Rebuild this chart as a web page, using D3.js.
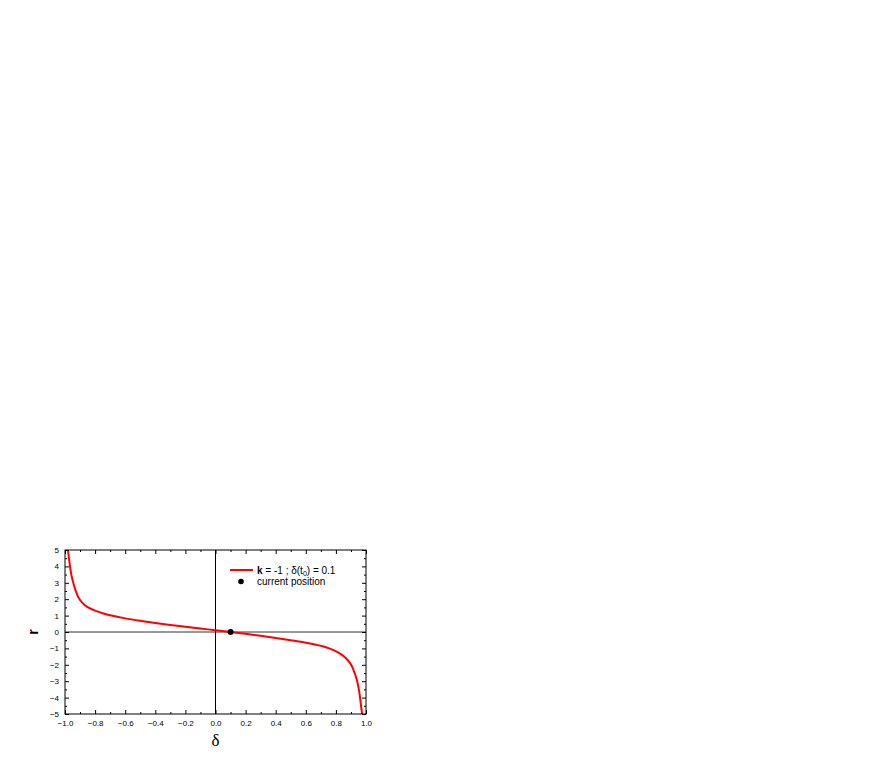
<!DOCTYPE html>
<html><head><meta charset="utf-8">
<script src="https://cdn.jsdelivr.net/npm/d3@7"></script>
<style>body{margin:0;background:#fff}svg{display:block}</style>
</head><body>
<script>
const deltaVals = [-0.980,-0.971,-0.958,-0.942,-0.920,-0.90,-0.870,-0.843,-0.80,-0.75,-0.70,-0.60,-0.50,-0.40,-0.30,-0.20,-0.10,0.00,0.10,0.20,0.30,0.40,0.50,0.60,0.66,0.712,0.76,0.801,0.835,0.867,0.892,0.912,0.938,0.956,0.967,0.974];
const rVals = [5.0,4.3,3.5,2.9,2.3,1.95,1.65,1.48,1.3,1.14,1.02,0.83,0.68,0.55,0.43,0.32,0.21,0.11,0.00,-0.11,-0.23,-0.36,-0.50,-0.65,-0.76,-0.87,-1.01,-1.18,-1.36,-1.60,-1.87,-2.2,-2.88,-3.7,-4.5,-5.0];
const currentPos = [0.1, 0.0];
const xTicks = [-1.0,-0.8,-0.6,-0.4,-0.2,0.0,0.2,0.4,0.6,0.8,1.0];
const yTicks = [-5,-4,-3,-2,-1,0,1,2,3,4,5];
const legendLabels = ["k = -1 ; δ(t0) = 0.1", "current position"];

const W = 872, H = 764;
const m = {left:65, right:366, top:550, bottom:714};
const svg = d3.select("body").append("svg").attr("width",W).attr("height",H);
const x = d3.scaleLinear().domain([-1,1]).range([m.left,m.right]);
const y = d3.scaleLinear().domain([-5,5]).range([m.bottom,m.top]);
const font = "Liberation Sans, Arial, sans-serif";

svg.append("line").attr("x1",x(-1)).attr("x2",x(1)).attr("y1",y(0)).attr("y2",y(0)).attr("stroke","#333").attr("stroke-width",1);
svg.append("line").attr("x1",x(0)).attr("x2",x(0)).attr("y1",y(-5)).attr("y2",y(5)).attr("stroke","#000").attr("stroke-width",1);

svg.append("clipPath").attr("id","c").append("rect").attr("x",m.left).attr("y",m.top).attr("width",m.right-m.left).attr("height",m.bottom-m.top);

const pts = deltaVals.map((d,i)=>[d,rVals[i]]);
const line = d3.line().x(d=>x(d[0])).y(d=>y(d[1])).curve(d3.curveCatmullRom.alpha(0.5));
svg.append("path").datum(pts).attr("d",line).attr("fill","none").attr("stroke","#ff0000").attr("stroke-width",2).attr("clip-path","url(#c)");

svg.append("circle").attr("cx",x(currentPos[0])).attr("cy",y(currentPos[1])).attr("r",3).attr("fill","#000");

const minorX = d3.range(-0.9,1.0,0.2).map(v=>+v.toFixed(1));
const minorY = d3.range(-4.5,5,1);
function axisG(axis, tr){ const g=svg.append("g").attr("transform",tr).call(axis); g.select(".domain").remove(); g.selectAll("line").attr("stroke","#000"); g.selectAll("text").attr("font-family",font).attr("font-size","8px").attr("fill","#000"); return g;}
axisG(d3.axisBottom(x).tickValues(xTicks).tickSize(-4).tickPadding(6).tickFormat(d3.format(".1f")), `translate(0,${m.bottom})`);
axisG(d3.axisBottom(x).tickValues(minorX).tickSize(-2).tickFormat(""), `translate(0,${m.bottom})`);
axisG(d3.axisTop(x).tickValues(xTicks).tickSize(-4).tickFormat(""), `translate(0,${m.top})`);
axisG(d3.axisTop(x).tickValues(minorX).tickSize(-2).tickFormat(""), `translate(0,${m.top})`);
axisG(d3.axisLeft(y).tickValues(yTicks).tickSize(-4).tickPadding(6).tickFormat(d3.format("d")), `translate(${m.left},0)`);
axisG(d3.axisLeft(y).tickValues(minorY).tickSize(-2).tickFormat(""), `translate(${m.left},0)`);
axisG(d3.axisRight(y).tickValues(yTicks).tickSize(-4).tickFormat(""), `translate(${m.right},0)`);
axisG(d3.axisRight(y).tickValues(minorY).tickSize(-2).tickFormat(""), `translate(${m.right},0)`);

svg.append("rect").attr("x",m.left).attr("y",m.top).attr("width",m.right-m.left).attr("height",m.bottom-m.top).attr("fill","none").attr("stroke","#000").attr("stroke-width",1);

svg.append("text").attr("x",x(0)).attr("y",746).attr("text-anchor","middle").attr("font-family","Liberation Serif, Times New Roman, serif").attr("font-size","17px").text("δ");
svg.append("text").attr("transform",`translate(38,${y(0)}) rotate(-90)`).attr("text-anchor","middle").attr("font-family",font).attr("font-weight","bold").attr("font-size","14px").text("r");

const lg = svg.append("g");
lg.append("line").attr("x1",230).attr("x2",253).attr("y1",570).attr("y2",570).attr("stroke","#ff0000").attr("stroke-width",2);
const t1 = lg.append("text").attr("x",257).attr("y",573.5).attr("font-family",font).attr("font-size","10px");
t1.append("tspan").attr("font-weight","bold").text("k");
t1.append("tspan").text(" = -1 ; δ(t");
t1.append("tspan").attr("font-size","7px").attr("dy",2).text("0");
t1.append("tspan").attr("dy",-2).text(") = 0.1");
lg.append("circle").attr("cx",241).attr("cy",581.5).attr("r",2.8).attr("fill","#000");
lg.append("text").attr("x",257).attr("y",585).attr("font-family",font).attr("font-size","10px").text(legendLabels[1]);
</script>
</body></html>
